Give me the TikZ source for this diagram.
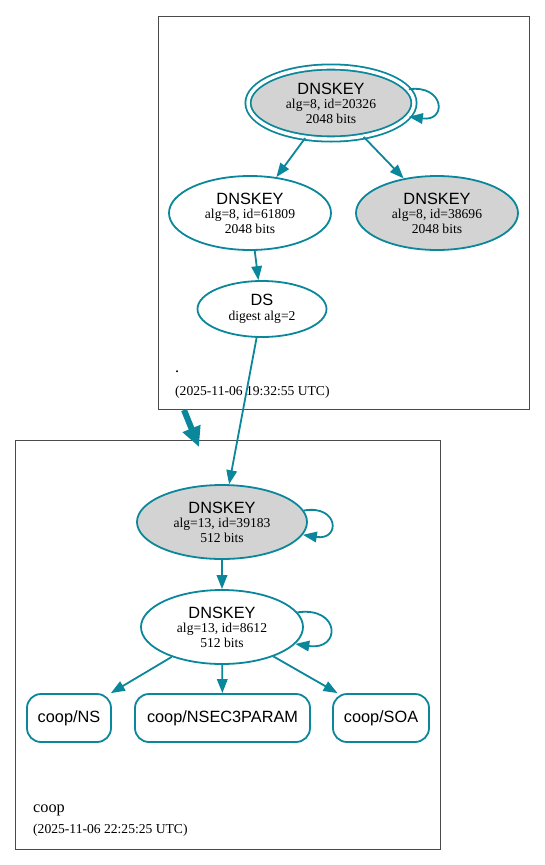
\documentclass[tikz,border=0pt]{standalone}
\usepackage{fontspec}
\setmainfont{Liberation Serif}
\setsansfont{Liberation Sans}
\usetikzlibrary{arrows.meta,shapes.geometric}
\definecolor{dteal}{HTML}{0A879A}
\definecolor{keygray}{HTML}{D3D3D3}
\definecolor{zoneline}{HTML}{4A4A4A}
\tikzset{
  zonebox/.style={draw=zoneline,line width=0.9pt},
  keynode/.style={ellipse,draw=dteal,line width=1.8pt,inner sep=0pt,align=center,
    font=\fontsize{13.6}{14.6}\selectfont},
  rrnode/.style={rectangle,rounded corners=14pt,draw=dteal,line width=1.8pt,inner sep=0pt,
    minimum height=48pt,font=\sffamily\fontsize{16.3}{18}\selectfont},
  edge/.style={draw=dteal,line width=1.8pt,-{Triangle[length=14pt,width=10.5pt]}},
  zonearrow/.style={draw=dteal,line width=6pt,-{Triangle[length=20pt,width=18pt]}},
  ztitle/.style={anchor=base west,inner sep=0pt,font=\fontsize{16.3}{18}\selectfont},
  zstamp/.style={anchor=base west,inner sep=0pt,font=\fontsize{13.6}{15}\selectfont},
}
\newcommand{\keyhead}{\sffamily\fontsize{16.3}{16.3}\selectfont DNSKEY}
\begin{document}
\begin{tikzpicture}[x=1pt,y=-1pt]
\useasboundingbox (0,0) rectangle (545,865);
% zone boxes
\draw[zonebox] (158,16) rectangle (529,409);
\draw[zonebox] (15,440) rectangle (440,849);
% root zone nodes
\node[keynode,fill=keygray,double=white,double distance=3.4pt,minimum width=166pt,minimum height=72pt] (ksk) at (331,103)
  {{\keyhead}\\alg=8, id=20326\\2048 bits};
\node[keynode,minimum width=162pt,minimum height=74pt] (z1) at (250,213)
  {{\keyhead}\\alg=8, id=61809\\2048 bits};
\node[keynode,fill=keygray,minimum width=162pt,minimum height=74pt] (z2) at (437,213)
  {{\keyhead}\\alg=8, id=38696\\2048 bits};
\node[keynode,minimum width=129pt,minimum height=56pt] (ds) at (262,309)
  {{\sffamily\fontsize{16.3}{16.3}\selectfont DS}\\digest alg=2};
\node[ztitle] (rootname) at (175,372) {.};
\node[zstamp] (rootstamp) at (175,395) {(2025-11-06 19:32:55 UTC)};
% coop zone nodes
\node[keynode,fill=keygray,minimum width=170pt,minimum height=74pt] (k1) at (222,522)
  {{\keyhead}\\alg=13, id=39183\\512 bits};
\node[keynode,minimum width=162pt,minimum height=74pt] (k2) at (222,627)
  {{\keyhead}\\alg=13, id=8612\\512 bits};
\node[rrnode,minimum width=84pt] (ns) at (69,718) {coop/NS};
\node[rrnode,minimum width=175pt] (n3p) at (222.5,718) {coop/NSEC3PARAM};
\node[rrnode,minimum width=96pt] (soa) at (381,718) {coop/SOA};
\node[ztitle] (coopname) at (33,812) {coop};
\node[zstamp] (coopstamp) at (33,833) {(2025-11-06 22:25:25 UTC)};
% edges
\draw[edge] (ksk.10) .. controls +(35,-5) and +(39,5) .. (ksk.-10);
\draw[edge] (ksk) -- (z1);
\draw[edge] (ksk) -- (z2);
\draw[edge] (z1) -- (ds);
\draw[edge] (ds) -- (k1);
\draw[edge] (k1.8) .. controls +(35,-6) and +(38,6) .. (k1.-9);
\draw[edge] (k1) -- (k2);
\draw[edge] (k2.11) .. controls +(43,-6) and +(46,7) .. (k2.-13);
\draw[edge] (k2) -- (ns);
\draw[edge] (k2) -- (n3p);
\draw[edge] (k2) -- (soa);
% zone delegation arrow
\coordinate (za) at (184,410);
\coordinate (zb) at (199,447);
\draw[zonearrow] (za) -- (zb);
\end{tikzpicture}
\end{document}
